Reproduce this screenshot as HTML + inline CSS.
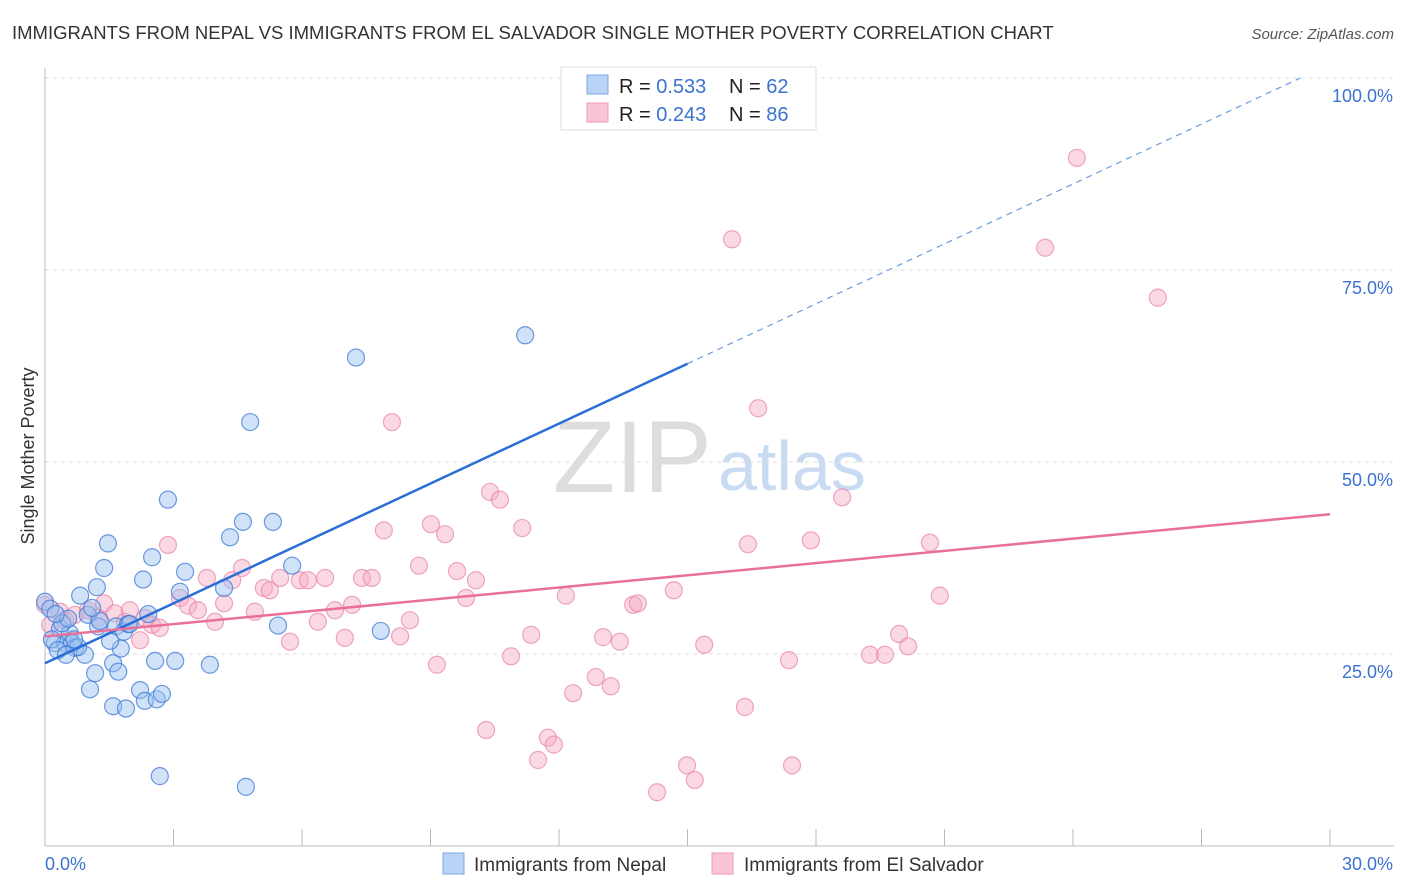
<!DOCTYPE html>
<html><head><meta charset="utf-8"><style>
body{margin:0;background:#fff;font-family:"Liberation Sans",sans-serif;}
#wrap{position:relative;width:1406px;height:892px;overflow:hidden;}
svg text{font-family:"Liberation Sans",sans-serif;}
</style></head><body>
<div id="wrap">
<svg id="chart" width="1406" height="892">
<text x="12" y="39" font-size="18.5" fill="#333">IMMIGRANTS FROM NEPAL VS IMMIGRANTS FROM EL SALVADOR SINGLE MOTHER POVERTY CORRELATION CHART</text>
<text x="1394" y="39" font-size="15" fill="#555" font-style="italic" text-anchor="end">Source: ZipAtlas.com</text>
<text transform="translate(34,456) rotate(-90)" font-size="18" fill="#333" text-anchor="middle">Single Mother Poverty</text>
<text x="553" y="492" font-size="102" fill="#ddd" font-family="Liberation Serif">ZIP</text>
<text x="718" y="490" font-size="70" fill="#c9daf3">atlas</text>
<g id="grid"></g><g id="marks"></g>
<g>
<rect x="561" y="67" width="255" height="63" fill="#fff" stroke="#ddd"/>
<rect x="587" y="75" width="21" height="19" fill="#b9d3f5" stroke="#7aa7e5"/>
<rect x="587" y="103" width="21" height="19" fill="#f9c5d4" stroke="#ee9ab4"/>
<text x="619" y="93" font-size="20" fill="#222">R = <tspan fill="#3b73d1">0.533</tspan></text>
<text x="729" y="93" font-size="20" fill="#222">N = <tspan fill="#3b73d1">62</tspan></text>
<text x="619" y="121" font-size="20" fill="#222">R = <tspan fill="#3b73d1">0.243</tspan></text>
<text x="729" y="121" font-size="20" fill="#222">N = <tspan fill="#3b73d1">86</tspan></text>
</g>
<g>
<rect x="443" y="853" width="21" height="21" fill="#b9d3f5" stroke="#7aa7e5"/>
<text x="474" y="871" font-size="19" fill="#333">Immigrants from Nepal</text>
<rect x="712" y="853" width="21" height="21" fill="#f9c5d4" stroke="#ee9ab4"/>
<text x="744" y="871" font-size="19" fill="#333">Immigrants from El Salvador</text>
</g>
</svg>
</div>
<script>
const yTicks=[25,50,75,100];
const yTickLabels=["25.0%","50.0%","75.0%","100.0%"];
const xTickCount=10;
const xLabels=["0.0%","30.0%"];
const nepalX=[0,0.12,0.23,0.35,0.47,0.58,0.63,0.7,0.82,0.93,1.0,1.05,1.17,1.21,1.24,1.38,1.47,1.59,1.59,1.66,1.71,1.77,1.84,1.89,1.94,2.22,2.29,2.33,2.41,2.5,2.57,2.61,2.68,2.73,2.87,3.04,3.15,3.27,3.85,4.18,4.32,4.62,4.69,4.79,5.32,5.44,5.77,7.26,7.84,11.21,0.4,0.54,0.77,1.28,1.98,1.52,0.16,0.3,0.49,0.68,1.1,0.25];
const nepalY=[31.8,30.9,26.4,28.3,26.4,27.7,26.4,25.8,32.6,24.9,30.1,20.4,22.5,33.7,28.6,36.2,39.4,23.8,18.2,28.6,22.7,25.7,27.9,17.9,28.9,20.3,34.7,18.9,30.2,37.6,24.1,19.1,9.1,19.8,45.1,24.1,33.1,35.7,23.6,33.6,40.2,42.2,7.7,55.2,42.2,28.7,36.5,63.6,28.0,66.5,29.0,29.6,25.9,29.3,28.9,26.7,26.9,25.5,24.9,26.9,31.0,30.2];
const salvX=[0,0.12,0.35,0.47,0.70,1.00,1.24,1.38,1.63,1.87,1.98,2.22,2.33,2.50,2.68,2.87,3.15,3.34,3.57,3.78,3.97,4.18,4.37,4.60,4.90,5.11,5.25,5.49,5.72,5.95,6.14,6.37,6.54,6.77,7.00,7.17,7.40,7.63,7.91,8.10,8.29,8.52,8.73,9.01,9.15,9.34,9.62,9.83,10.06,10.30,10.39,10.62,10.88,11.14,11.35,11.51,11.74,11.88,12.16,12.33,12.86,13.03,13.21,13.42,13.73,13.84,14.29,14.68,14.99,15.17,15.39,16.04,16.34,16.41,16.65,17.37,17.44,17.88,18.61,19.26,19.61,19.94,20.15,20.66,20.89,23.35,24.09,25.98];
const salvY=[31.4,28.8,30.5,29.4,30.1,30.7,29.7,31.6,30.3,29.2,30.7,26.8,29.7,28.8,28.4,39.2,32.3,31.3,30.7,34.9,29.2,31.6,34.6,36.2,30.5,33.6,33.3,34.9,26.6,34.6,34.6,29.2,34.9,30.7,27.1,31.4,34.9,34.9,41.1,55.2,27.3,29.4,36.5,41.9,23.6,40.6,35.8,32.3,34.6,15.1,46.1,45.1,24.7,41.4,27.5,11.2,14.1,13.2,32.6,19.9,22.0,27.2,20.8,26.6,31.4,31.6,7.0,33.3,10.5,8.6,26.2,79.0,18.1,39.3,57.0,24.2,10.5,39.8,45.4,24.9,24.9,27.6,26.0,39.5,32.6,77.9,89.6,71.4];
const nepalTrend=[23.8,2.6];
const salvTrend=[27.3,0.53];
const xs=v=>45+v/30*1285;
const ys=v=>846-v/25*192;
const NS="http://www.w3.org/2000/svg";
const grid=document.getElementById('grid'),marks=document.getElementById('marks');
function mk(tag,attrs,parent){const e=document.createElementNS(NS,tag);for(const k in attrs)e.setAttribute(k,attrs[k]);parent.appendChild(e);return e;}
yTicks.forEach((t,i)=>{
  const l=mk('line',{x1:45,x2:1394,y1:ys(t),y2:ys(t),stroke:'#ddd','stroke-dasharray':'4,4'},grid);
  
  
  const tx=mk('text',{x:1393,y:ys(t)+24,'font-size':18,fill:'#3b73d1','text-anchor':'end'},grid);
  tx.textContent=yTickLabels[i];
  
  
});
const ax=mk('line',{x1:45,x2:45,y1:68,y2:846,stroke:'#bbb'},grid);


const bx=mk('line',{x1:45,x2:1394,y1:846,y2:846,stroke:'#bbb'},grid);


for(let i=0;i<=xTickCount;i++){
  const x=xs(i*3);
  const t=mk('line',{x1:x,x2:x,y1:829,y2:846,stroke:'#bbb'},grid);
  
  
}
[[0,'start',45],[30,'end',1393]].forEach((a,i)=>{
  const t=mk('text',{x:a[2],y:870,'font-size':18,fill:'#3b73d1','text-anchor':a[1]},grid);
  t.textContent=xLabels[i];
  
  
});
for(let i=0;i<salvX.length;i++){
  const c=mk('circle',{cx:xs(salvX[i]),cy:ys(salvY[i]),r:8.5,fill:'rgba(246,170,195,0.45)',stroke:'rgba(232,130,165,0.7)','stroke-width':1.2},marks);
  
  
}
for(let i=0;i<nepalX.length;i++){
  const c=mk('circle',{cx:xs(nepalX[i]),cy:ys(nepalY[i]),r:8.5,fill:'rgba(150,190,240,0.45)',stroke:'rgba(60,120,215,0.75)','stroke-width':1.2},marks);
  
  
}
const f=(tr,x)=>tr[0]+tr[1]*x;
const l1=mk('line',{x1:xs(0),y1:ys(f(nepalTrend,0)),x2:xs(15),y2:ys(f(nepalTrend,15)),stroke:'#2a6ed8','stroke-width':2.5},marks);


const xe=(100-nepalTrend[0])/nepalTrend[1];
const l2=mk('line',{x1:xs(15),y1:ys(f(nepalTrend,15)),x2:xs(xe),y2:ys(100),stroke:'#6d9be0','stroke-width':1.2,'stroke-dasharray':'6,5'},marks);


const l3=mk('line',{x1:xs(0),y1:ys(f(salvTrend,0)),x2:xs(30),y2:ys(f(salvTrend,30)),stroke:'#e8709a','stroke-width':2.5},marks);


</script>
</body></html>
